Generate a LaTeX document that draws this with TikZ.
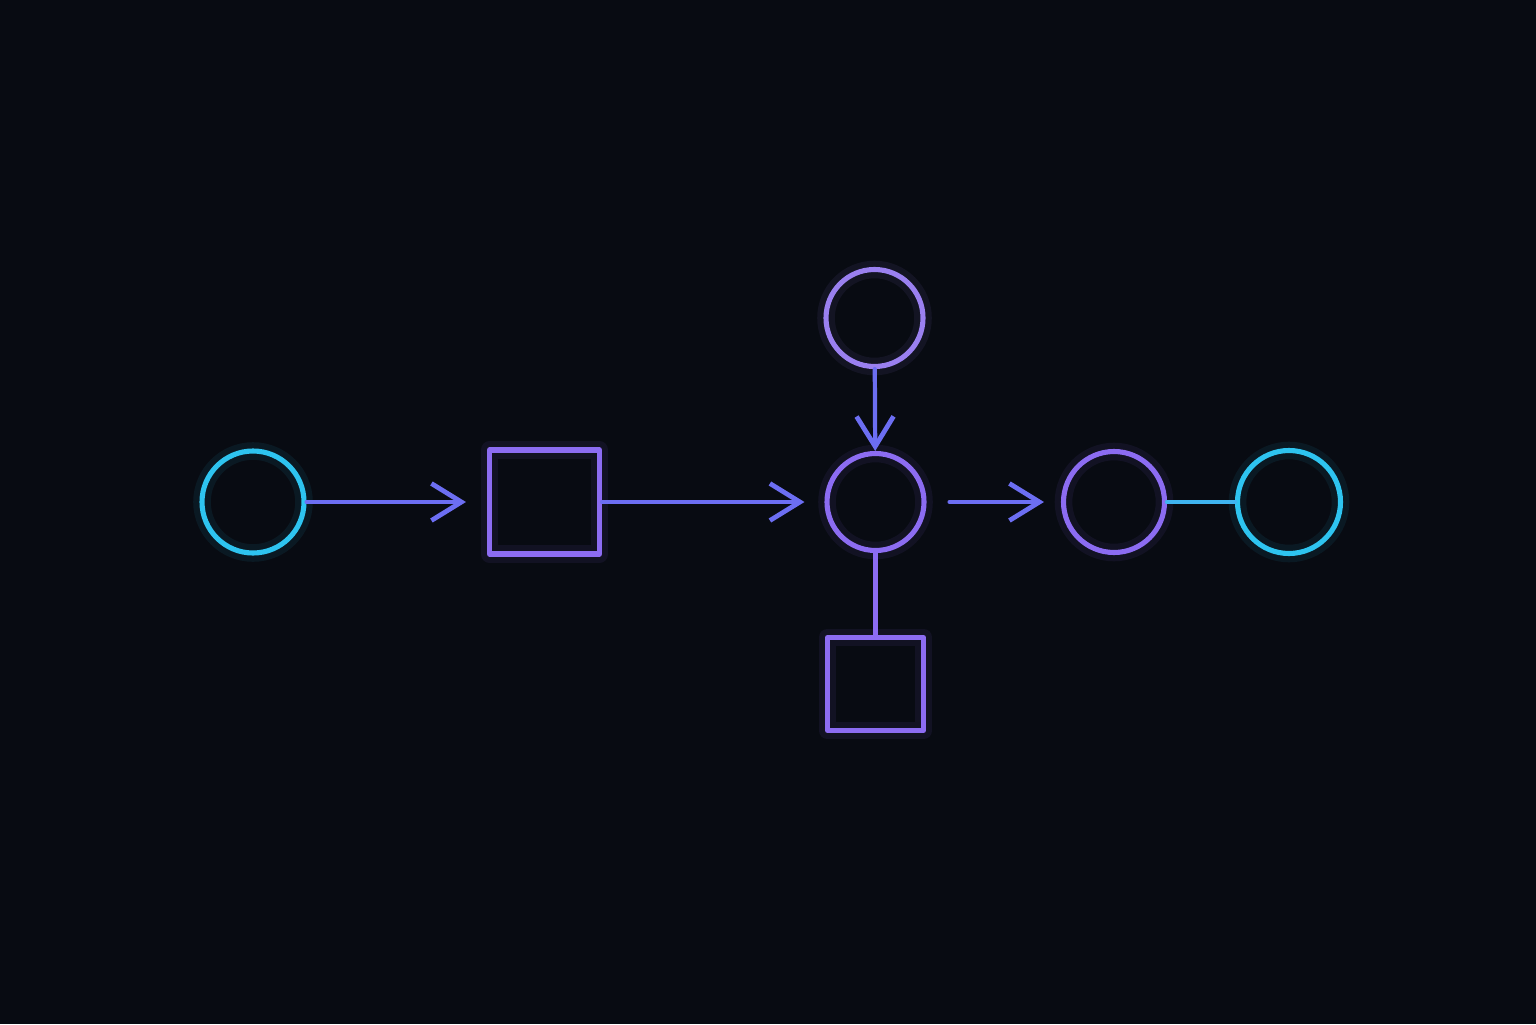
\documentclass[tikz,border=0pt]{standalone}
\usetikzlibrary{arrows.meta}
\definecolor{bg}{HTML}{080B12}
\definecolor{neoncyan}{HTML}{2EC4F0}
\definecolor{neonpurple}{HTML}{8C6CF2}
\definecolor{neonlilac}{HTML}{9A80F0}
\definecolor{wire}{HTML}{6C6EF2}
\definecolor{wirecyan}{HTML}{3FB4F0}
\begin{document}
\begin{tikzpicture}[line join=round, line cap=round,
  >={Straight Barb[length=0.3cm,width=0.37cm,line width=1.35pt]},
  glow/.style={preaction={draw=#1,line width=5pt,opacity=0.08}},
  ring/.style={circle,draw=#1,line width=1.45pt,glow=#1,minimum size=1.0cm,inner sep=0pt},
  box/.style={rectangle,draw=neonpurple,line width=1.45pt,glow=neonpurple,inner sep=0pt},
  wireline/.style={draw=#1,line width=1.2pt}]
\fill[bg] (0,0) rectangle (15.36,10.24);
% nodes
\node[ring=neoncyan,minimum size=1.02cm] (src) at (2.53,5.22) {};
\node[box,minimum width=1.10cm,minimum height=1.04cm] (proc) at (5.445,5.22) {};
\node[ring=neonpurple,minimum size=0.97cm] (hub) at (8.755,5.22) {};
\node[ring=neonlilac,minimum size=0.97cm] (feed) at (8.745,7.06) {};
\node[box,minimum width=0.96cm,minimum height=0.93cm] (store) at (8.755,3.40) {};
\node[ring=neonpurple,minimum size=1.01cm] (merge) at (11.14,5.22) {};
\node[ring=neoncyan,minimum size=1.03cm] (sink) at (12.89,5.22) {};
% connectors
\draw[wireline=wire,->,shorten >=0.21cm] (src) -- (proc);
\draw[wireline=wire,->,shorten >=0.2cm] (proc) -- (hub);
\draw[wireline=wire,->] (feed) -- (hub);
\draw[wireline=wire,->,shorten <=0.23cm,shorten >=0.17cm] (hub) -- (merge);
\draw[wireline=neonpurple] (hub) -- (store);
\draw[wireline=wirecyan,line width=1.3pt] (merge) -- (sink);
\end{tikzpicture}
\end{document}
